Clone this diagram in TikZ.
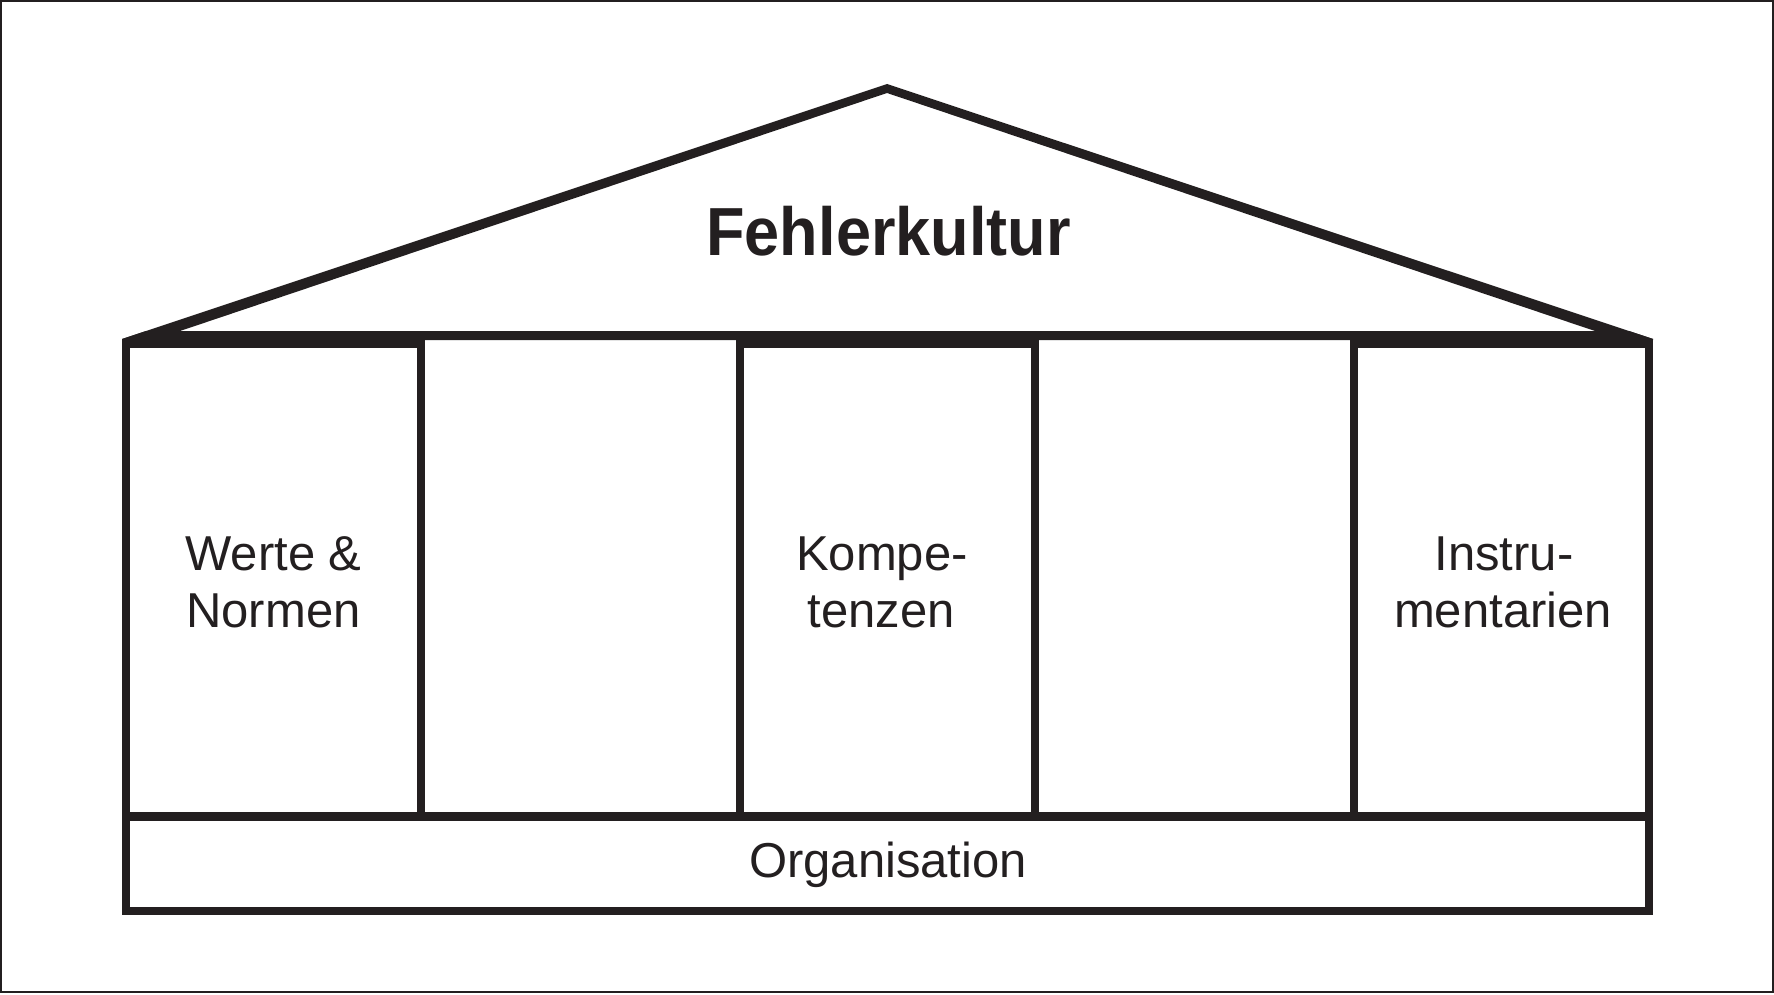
\documentclass[tikz,border=0pt]{standalone}
\usepackage{fontspec}
\setmainfont{Liberation Sans}
\definecolor{inkc}{RGB}{35,31,32}
\begin{document}
\begin{tikzpicture}[x=1pt,y=-1pt, line join=miter,
  ink/.style={draw=inkc, line width=8.5pt},
  lbl/.style={anchor=base, inner sep=0pt, text=inkc, font=\fontsize{49}{56}\selectfont},
  titlelbl/.style={anchor=base, inner sep=0pt, text=inkc, font=\fontsize{63}{70}\selectfont\bfseries}]
\useasboundingbox (0,0) rectangle (1774,995);
% outer frame
\draw[draw=inkc, line width=2.4pt] (1.2,1.1) rectangle (1772.8,991.8);
% roof
\fill[inkc, even odd rule] (122,339) -- (887,84) -- (1653,339) -- cycle
  (180,331) -- (887,93) -- (1595,331) -- cycle;
% beam (corners cut by the roof edge)
\fill[inkc] (122,340) -- (122,339) -- (146,331) -- (1629,331) -- (1653,339) -- (1653,340) -- cycle;
% pillars
\draw[ink] (126,344) rectangle (421,816.5);
\draw[ink] (740,344) rectangle (1035,816.5);
\draw[ink] (1354,344) rectangle (1649,816.5);
% base
\draw[ink] (126,816.5) rectangle (1649,911);
% texts
\node[titlelbl] (title) at (888.5,255) {\scalebox{1}[1.08]{Fehlerkultur}};
\node[lbl] (werteA) at (273.5,570) {Werte \&};
\node[lbl] (werteB) at (273.5,627) {Normen};
\node[lbl] (kompA) at (882,570) {Kompe-};
\node[lbl] (kompB) at (881,627) {tenzen};
\node[lbl] (instrA) at (1504,570) {Instru-};
\node[lbl] (instrB) at (1503,627) {mentarien};
\node[lbl] (org) at (888,877) {Organisation};
\end{tikzpicture}
\end{document}
